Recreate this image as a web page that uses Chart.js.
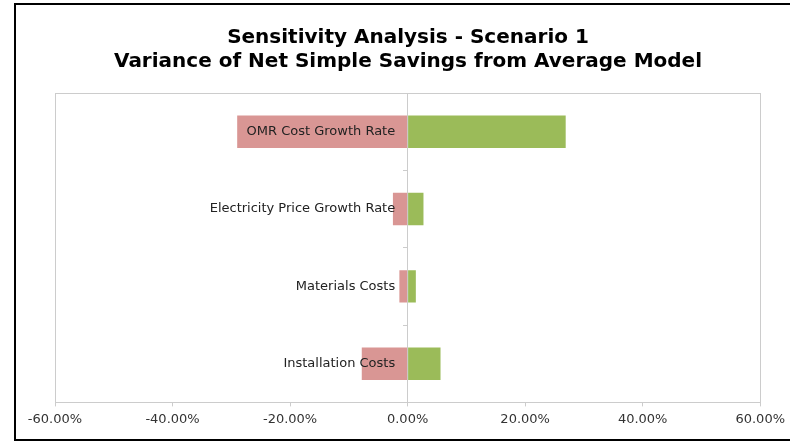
<!DOCTYPE html>
<html>
<head>
<meta charset="utf-8">
<script src="https://cdn.jsdelivr.net/npm/chart.js@4.4.1/dist/chart.umd.min.js"></script>
<style>
  html, body { margin: 0; padding: 0; background: #fff; }
  #wrap { position: relative; width: 790px; height: 441px; overflow: hidden; }
  #frame { position: absolute; left: 14px; top: 3px; width: 800px; height: 434px; border: 2px solid #000; }
  #myChart { position: absolute; left: 0; top: 0; }
</style>
</head>
<body>
<div id="wrap">
  <div id="frame"></div>
  <canvas id="myChart" width="790" height="441"></canvas>
</div>
<script>
// tornado data, values in percent
const categories = ['OMR Cost Growth Rate', 'Electricity Price Growth Rate', 'Materials Costs', 'Installation Costs'];
const lowValues = [-29.0, -2.5, -1.4, -7.8];
const highValues = [26.9, 2.7, 1.4, 5.6];
const xTicks = [-60, -40, -20, 0, 20, 40, 60];

// gray box round the plot area
const plotBorder = {
  id: 'plotBorder',
  afterDraw(chart) {
    const {ctx, chartArea} = chart;
    ctx.save();
    ctx.strokeStyle = '#cccccc';
    ctx.lineWidth = 1;
    ctx.strokeRect(Math.round(chartArea.left) + 0.5, Math.round(chartArea.top) + 0.5,
      Math.round(chartArea.right - chartArea.left), Math.round(chartArea.bottom - chartArea.top));
    ctx.restore();
  }
};

let ctx = document.getElementById('myChart').getContext('2d');
let myChart = new Chart(ctx, {
  type: 'bar',
  data: {
    labels: categories,
    datasets: [
      { label: 'Low', data: lowValues, backgroundColor: '#d99694', barPercentage: 0.42, categoryPercentage: 1 },
      { label: 'High', data: highValues, backgroundColor: '#9bbb59', barPercentage: 0.42, categoryPercentage: 1 }
    ]
  },
  plugins: [plotBorder],
  options: {
    indexAxis: 'y',
    responsive: false,
    animation: false,
    layout: { padding: { left: 55, right: 29, top: 0, bottom: 9 } },
    plugins: {
      legend: { display: false },
      tooltip: { enabled: false },
      title: {
        display: true,
        text: ['Sensitivity Analysis - Scenario 1', 'Variance of Net Simple Savings from Average Model'],
        color: '#000',
        font: { family: 'DejaVu Sans', size: 20, weight: 'bold', lineHeight: 1.2 },
        padding: { top: 26, bottom: 19 }
      }
    },
    scales: {
      x: {
        stacked: true,
        min: -60,
        max: 60,
        afterBuildTicks(scale) { scale.ticks = xTicks.map(v => ({ value: v })); },
        ticks: {
          color: '#333',
          font: { family: 'DejaVu Sans', size: 13 },
          padding: 5,
          maxRotation: 0,
          callback: v => v.toFixed(2) + '%'
        },
        grid: { drawOnChartArea: false, drawTicks: true, tickLength: 4, color: '#cccccc' },
        border: { color: '#cccccc' }
      },
      y: {
        stacked: true,
        position: { x: 0 },
        ticks: {
          z: 1,
          color: '#222',
          font: { family: 'DejaVu Sans', size: 13 },
          // axis sits at zero, so keep a small gap before the line
          callback(v) { return this.getLabelForValue(v) + '   '; }
        },
        grid: { offset: true, drawOnChartArea: false, tickLength: 4, color: '#cccccc' },
        border: { color: '#cccccc' }
      }
    }
  }
});
</script>
</body>
</html>
